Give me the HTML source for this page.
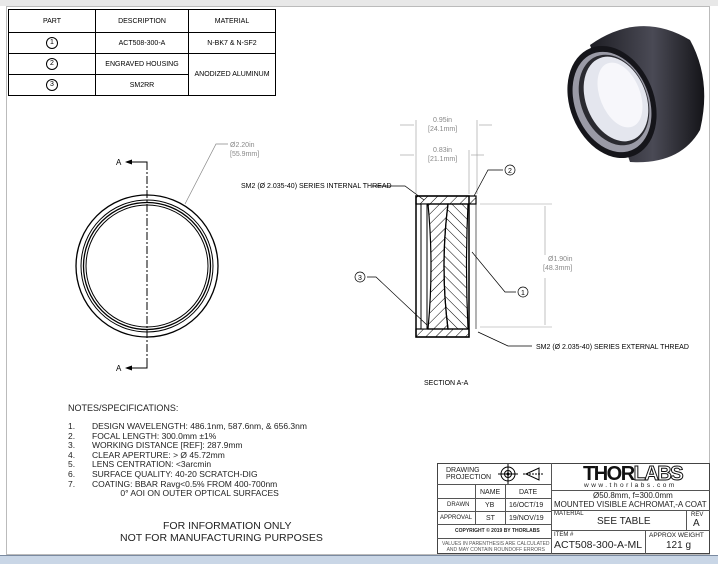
<!DOCTYPE html>
<html><head><meta charset="utf-8"><style>
body{margin:0;width:718px;height:563px;background:#fff;position:relative;overflow:hidden;font-family:"Liberation Sans",sans-serif;}
.a{position:absolute;}
.t{position:absolute;font-size:7px;color:#222;white-space:nowrap;}
table.p{position:absolute;left:8px;top:9px;border-collapse:collapse;font-size:7px;}
table.p td{border:1px solid #000;text-align:center;height:20px;padding:0;}
.c{display:inline-block;width:10px;height:10px;border:1px solid #000;border-radius:50%;font-size:7px;line-height:10px;}
.tb{position:absolute;border:1px solid #555;box-sizing:border-box;}
</style></head><body>
<div class="a" style="left:0;top:0;width:718px;height:6px;background:#e8e8e8"></div>
<div class="a" style="left:6px;top:6px;width:704px;height:549px;border:1px solid #bbb;box-sizing:border-box"></div>
<div class="a" style="left:0;top:555px;width:718px;height:8px;background:#c9d6e6;border-top:1px solid #7a8aa0"></div>
<table class="p">
<tr><td style="width:86px;height:22px">PART</td><td style="width:92px">DESCRIPTION</td><td style="width:86px">MATERIAL</td></tr>
<tr><td style="height:20px"><span class="c">1</span></td><td>ACT508-300-A</td><td>N-BK7 &amp; N-SF2</td></tr>
<tr><td style="height:20px"><span class="c">2</span></td><td>ENGRAVED HOUSING</td><td rowspan="2">ANODIZED ALUMINUM</td></tr>
<tr><td style="height:20px"><span class="c">3</span></td><td>SM2RR</td></tr>
</table>

<svg class="a" style="left:0;top:0" width="718" height="563">
<defs><pattern id="h" width="7" height="7" patternUnits="userSpaceOnUse" patternTransform="rotate(45)"><line x1="0" y1="0" x2="0" y2="7" stroke="#000" stroke-width="1"/></pattern>
<pattern id="h2" width="7" height="7" patternUnits="userSpaceOnUse" patternTransform="rotate(-45)"><line x1="0" y1="0" x2="0" y2="7" stroke="#000" stroke-width="1"/></pattern>
<linearGradient id="g" x1="0" x2="1"><stop offset="0" stop-color="#1e1e24"/><stop offset="0.55" stop-color="#4a4a55"/><stop offset="1" stop-color="#141418"/></linearGradient></defs>
<!-- front view -->
<g fill="none" stroke="#000">
<circle cx="147" cy="266" r="71" stroke-width="1.3"/>
<circle cx="147" cy="266" r="66"/>
<circle cx="147" cy="266" r="63.5" stroke-width="1.3"/>
<circle cx="147" cy="266" r="61"/>
<line x1="147" y1="162" x2="147" y2="368" stroke-dasharray="8,2,2,2"/>
<polyline points="130,162 147,162 147,168"/><polyline points="130,368 147,368 147,362"/>
</g>
<path d="M125,162 l7,-2.5 v5z M125,368 l7,-2.5 v5z"/>
<text x="116" y="165" font-size="8">A</text><text x="116" y="371" font-size="8">A</text>
<polyline points="185,204 216,144 228,144" fill="none" stroke="#888" stroke-width="0.7"/>
<text x="230" y="147" font-size="7" fill="#888">Ø2.20in</text><text x="230" y="156" font-size="7" fill="#888">[55.9mm]</text>
<!-- section -->
<g stroke="#000">
<rect x="416" y="196" width="53" height="141" fill="#fff" stroke-width="1.5"/>
<rect x="416" y="196" width="60" height="8" fill="url(#h)" stroke-width="1.2"/>
<rect x="416" y="329" width="53" height="8" fill="url(#h)" stroke-width="1.2"/>
<rect x="421" y="204" width="6" height="125" fill="#fff"/>
<path d="M428,204 L448,204 Q440,266 448,329 L428,329 Q434,266 428,204Z" fill="url(#h)" stroke-width="1.2"/>
<path d="M448,204 L468,204 Q465,266 468,329 L448,329 Q440,266 448,204Z" fill="url(#h2)" stroke-width="1.2"/>
<line x1="469" y1="204" x2="469" y2="329"/><line x1="476" y1="204" x2="476" y2="329" stroke-width="0.6"/>
</g>
<g stroke="#999" stroke-width="0.6" fill="none">
<line x1="416" y1="120" x2="416" y2="194"/><line x1="477" y1="120" x2="477" y2="194"/>
<line x1="469" y1="150" x2="469" y2="194"/>
<line x1="400" y1="125" x2="414" y2="125"/><line x1="479" y1="125" x2="492" y2="125"/>
<line x1="400" y1="155" x2="414" y2="155"/><line x1="471" y1="155" x2="484" y2="155"/>
<line x1="480" y1="204" x2="552" y2="204"/><line x1="480" y1="327" x2="552" y2="327"/>
<line x1="545" y1="206" x2="545" y2="255"/><line x1="545" y1="278" x2="545" y2="325"/>
</g>
<text x="433" y="122" font-size="7" fill="#888">0.95in</text><text x="428" y="131" font-size="7" fill="#888">[24.1mm]</text>
<text x="433" y="152" font-size="7" fill="#888">0.83in</text><text x="428" y="161" font-size="7" fill="#888">[21.1mm]</text>
<text x="548" y="261" font-size="7" fill="#888">Ø1.90in</text><text x="543" y="270" font-size="7" fill="#888">[48.3mm]</text>
<g fill="none" stroke="#000" stroke-width="0.7">
<polyline points="372,186 405,186 424,200"/>
<polyline points="503,170 488,170 474,196"/>
<polyline points="367,277 376,277 427,325"/>
<polyline points="516,292 505,292 472,252"/>
<polyline points="532,346 508,346 478,332"/>
<circle cx="510" cy="170" r="5"/><circle cx="360" cy="277" r="5"/><circle cx="523" cy="292" r="5"/>
</g>
<text x="508" y="173" font-size="7">2</text><text x="358" y="280" font-size="7">3</text><text x="521" y="295" font-size="7">1</text>
<text x="241" y="188" font-size="7">SM2 (Ø 2.035-40) SERIES INTERNAL THREAD</text>
<text x="536" y="349" font-size="7">SM2 (Ø 2.035-40) SERIES EXTERNAL THREAD</text>
<text x="424" y="385" font-size="7">SECTION A-A</text>
<!-- photo -->
<path d="M590,45 Q640,10 690,40 Q712,80 700,130 Q680,165 630,162 Z" fill="url(#g)"/>
<ellipse cx="612" cy="102" rx="42" ry="58" fill="#15151a" transform="rotate(-22 612 102)"/>
<ellipse cx="612" cy="102" rx="37" ry="52" fill="#9a9aa6" transform="rotate(-22 612 102)"/>
<ellipse cx="614" cy="100" rx="33" ry="47" fill="#2a2a30" transform="rotate(-22 614 100)"/>
<ellipse cx="616" cy="99" rx="30" ry="44" fill="#e4e6ee" transform="rotate(-22 616 99)"/>
<ellipse cx="620" cy="95" rx="20" ry="34" fill="#f7f7fb" transform="rotate(-22 620 95)"/>
</svg>

<div class="t" style="left:68px;top:403px;font-size:9px">NOTES/SPECIFICATIONS:</div>
<div class="t" style="left:68px;top:422px;font-size:8.5px;line-height:9.6px">1.<br>2.<br>3.<br>4.<br>5.<br>6.<br>7.</div>
<div class="t" style="left:92px;top:422px;font-size:8.5px;line-height:9.6px">DESIGN WAVELENGTH: 486.1nm, 587.6nm, &amp; 656.3nm<br>FOCAL LENGTH: 300.0mm ±1%<br>WORKING DISTANCE [REF]: 287.9mm<br>CLEAR APERTURE: &gt; Ø 45.72mm<br>LENS CENTRATION: &lt;3arcmin<br>SURFACE QUALITY: 40-20 SCRATCH-DIG<br>COATING: BBAR Ravg&lt;0.5% FROM 400-700nm<br>&nbsp;&nbsp;&nbsp;&nbsp;&nbsp;&nbsp;&nbsp;&nbsp;&nbsp;&nbsp;&nbsp;&nbsp;0° AOI ON OUTER OPTICAL SURFACES</div>
<div class="t" style="left:120px;top:520px;font-size:10.5px;text-align:center;line-height:12px">&nbsp;&nbsp;&nbsp;&nbsp;FOR INFORMATION ONLY<br>NOT FOR MANUFACTURING PURPOSES</div>

<!-- title block -->
<div class="tb" style="left:437px;top:463px;width:273px;height:91px;border-color:#444"></div>
<div class="tb" style="left:437px;top:463px;width:115px;height:22px;border-width:0 1px 1px 0"></div>
<div class="t" style="left:446px;top:467px;line-height:7px">DRAWING<br>PROJECTION</div>
<svg class="a" style="left:496px;top:464px" width="55" height="20"><g fill="none" stroke="#000"><circle cx="12" cy="10" r="7"/><circle cx="12" cy="10" r="3.5"/><circle cx="12" cy="10" r="1" fill="#000"/><line x1="2" y1="10" x2="22" y2="10"/><line x1="12" y1="0" x2="12" y2="20"/><path d="M30,10 L43,4 L43,16 Z" /><line x1="27" y1="10" x2="48" y2="10" stroke-dasharray="2,1"/></g></svg>
<div class="tb" style="left:437px;top:485px;width:115px;height:14px;border-width:0 0 1px 0"></div>
<div class="tb" style="left:437px;top:499px;width:115px;height:13px;border-width:0 0 1px 0"></div>
<div class="tb" style="left:437px;top:512px;width:115px;height:13px;border-width:0 0 1px 0"></div>
<div class="tb" style="left:437px;top:525px;width:115px;height:14px;border-width:0 0 1px 0"></div>
<div class="a" style="left:475px;top:485px;width:1px;height:40px;background:#555"></div>
<div class="a" style="left:505px;top:485px;width:1px;height:40px;background:#555"></div>
<div class="a" style="left:551px;top:463px;width:1px;height:91px;background:#555"></div>
<div class="t" style="left:480px;top:489px">NAME</div><div class="t" style="left:519px;top:489px">DATE</div>
<div class="t" style="left:447px;top:502px;font-size:6px">DRAWN</div><div class="t" style="left:485px;top:502px">YB</div><div class="t" style="left:509px;top:502px">16/OCT/19</div>
<div class="t" style="left:440px;top:515px;font-size:6px">APPROVAL</div><div class="t" style="left:486px;top:515px">ST</div><div class="t" style="left:509px;top:515px">19/NOV/19</div>
<div class="t" style="left:455px;top:528px;font-size:5px;font-weight:bold">COPYRIGHT © 2019 BY THORLABS</div>
<div class="t" style="left:442px;top:541px;font-size:5px;text-align:center;line-height:6px;color:#555">VALUES IN PARENTHESIS ARE CALCULATED<br>AND MAY CONTAIN ROUNDOFF ERRORS</div>
<div class="t" style="left:583px;top:463px;font-size:20px;font-weight:bold;letter-spacing:-1.5px;color:#111">THOR<span style="color:#fff;-webkit-text-stroke:1px #111">LABS</span></div>
<div class="t" style="left:584px;top:482px;font-size:6.5px;letter-spacing:2.5px">www.thorlabs.com</div>
<div class="a" style="left:551px;top:490px;width:159px;height:1px;background:#555"></div>
<div class="t" style="left:593px;top:491px;font-size:8px">Ø50.8mm, f=300.0mm</div>
<div class="t" style="left:554px;top:500px;font-size:8px">MOUNTED VISIBLE ACHROMAT,-A COAT</div>
<div class="a" style="left:551px;top:510px;width:159px;height:1px;background:#555"></div>
<div class="t" style="left:554px;top:511px;font-size:6px">MATERIAL</div>
<div class="t" style="left:597px;top:516px;font-size:10px">SEE TABLE</div>
<div class="a" style="left:686px;top:510px;width:1px;height:20px;background:#555"></div>
<div class="t" style="left:691px;top:512px;font-size:6px">REV</div><div class="t" style="left:693px;top:518px;font-size:10px">A</div>
<div class="a" style="left:551px;top:530px;width:159px;height:1px;background:#555"></div>
<div class="a" style="left:645px;top:530px;width:1px;height:24px;background:#555"></div>
<div class="t" style="left:554px;top:532px;font-size:6px">ITEM #</div>
<div class="t" style="left:554px;top:539px;font-size:10.5px">ACT508-300-A-ML</div>
<div class="t" style="left:649px;top:532px;font-size:6.5px">APPROX WEIGHT</div>
<div class="t" style="left:666px;top:540px;font-size:10px">121 g</div>
</body></html>
